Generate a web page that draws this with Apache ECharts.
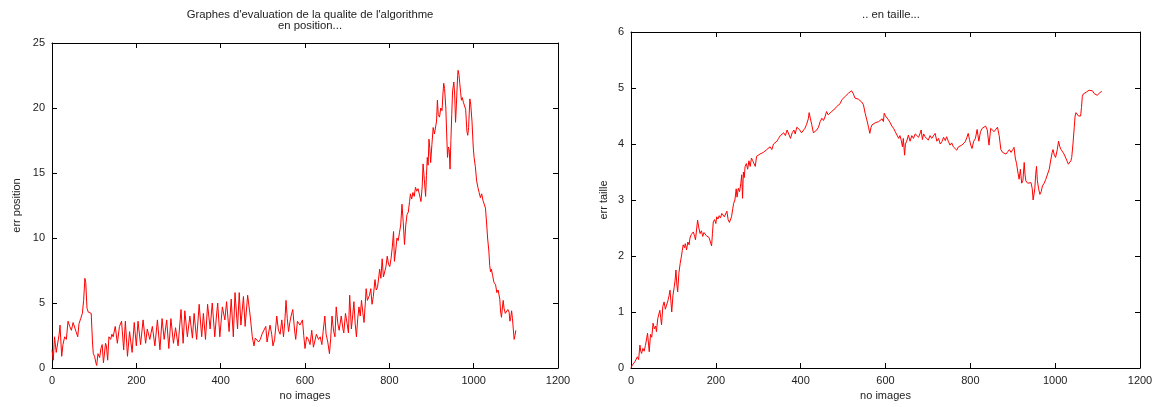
<!DOCTYPE html>
<html><head><meta charset="utf-8">
<script src="https://cdn.jsdelivr.net/npm/echarts@6/dist/echarts.min.js"></script>
<style>html,body{margin:0;padding:0;background:#fff}#c{width:1157px;height:407px}</style>
</head><body><div id="c"></div>
<script>
const xTicksLabels = [0,200,400,600,800,1000,1200];
const posX = [0,3,6,10,14,17,19,23,26,30,34,38,42,46,50,53,57,61,64,68,72,75,78,80,83,86,90,93,96,98,101,104,106,109,113,116,119,122,124,127,129,132,135,139,142,145,150,155,160,165,170,174,179,184,190,195,200,204,210,216,222,226,232,238,244,250,256,261,266,272,277,282,288,293,299,306,311,315,321,327,333,337,343,349,355,359,364,369,375,380,386,390,393,398,404,410,414,420,425,430,434,440,444,448,454,458,464,470,475,479,482,486,490,494,498,502,507,510,513,517,521,524,528,533,537,541,545,549,552,555,558,561,564,567,571,575,578,582,585,588,591,594,597,600,604,608,612,616,620,623,627,632,636,640,643,647,650,654,658,661,664,668,671,674,678,681,686,690,692,696,700,703,706,710,713,716,719,722,725,728,731,734,737,740,743,745,748,750,753,756,759,762,766,769,772,775,777,780,783,786,789,792,795,798,801,804,807,810,812,815,818,821,824,827,830,833,836,839,842,845,848,850,853,856,859,862,865,868,871,875,878,880,883,886,888,890,892,894,896,898,901,904,907,910,912,914,916,919,922,925,927,929,931,934,936,938,940,942,944,946,948,950,953,955,957,958,960,962,963,965,967,969,971,973,976,979,981,984,986,988,991,993,996,999,1001,1004,1007,1010,1013,1016,1019,1022,1025,1028,1031,1033,1036,1038,1040,1042,1045,1048,1050,1052,1055,1058,1060,1062,1064,1066,1068,1070,1072,1075,1078,1081,1084,1086,1088,1090,1092,1094,1096,1098,1100];
const posY = [1.4,0.6,2.4,1.2,1.1,2.6,3.3,0.9,1.8,2.4,2.2,3.6,3.2,2.9,3.5,3.6,2.8,2.4,3.4,3.8,4.2,5.2,6.9,6.6,4.6,4.3,4.4,4.2,2.0,1.1,0.9,0.4,0.2,1.1,0.8,1.5,1.8,0.4,0.5,1.9,1.7,0.6,2.4,2.2,2.6,2.4,3.2,1.9,3.2,3.6,1.4,3.6,0.9,2.8,1.2,3.5,1.7,3.6,1.8,3.7,1.9,3.0,2.2,3.2,1.7,3.7,1.4,3.8,2.2,3.7,1.5,3.8,1.9,3.1,1.7,4.5,1.9,4.4,2.4,4.0,2.3,4.2,2.2,4.9,2.4,4.2,2.2,4.9,3.0,5.0,2.4,4.0,5.0,2.4,4.7,3.7,5.1,2.8,5.3,2.4,5.8,3.0,5.8,3.3,5.5,3.2,5.6,4.0,2.4,1.7,2.3,2.4,2.0,2.2,2.6,2.7,3.2,2.0,2.1,3.3,2.6,1.7,2.2,4.0,2.9,2.6,3.7,2.4,3.5,5.2,3.8,2.8,3.5,4.0,4.5,3.0,2.2,3.6,3.7,3.3,3.2,3.7,2.5,1.5,2.4,2.2,1.8,2.9,1.6,1.5,2.6,2.2,2.4,1.8,2.8,4.0,2.6,2.0,1.1,2.3,4.0,2.8,2.4,4.7,3.4,2.9,4.0,3.0,2.7,4.2,3.4,2.7,5.6,3.0,4.0,5.1,3.4,2.4,3.8,4.7,4.0,5.2,4.3,3.5,5.0,6.1,5.2,5.1,5.6,6.1,4.9,5.5,6.8,6.0,6.2,7.0,7.6,6.9,8.4,7.0,6.9,7.8,8.6,8.0,7.8,8.4,9.3,10.5,8.2,9.0,10.0,9.8,10.4,11.0,12.6,11.2,9.5,11.0,11.8,12.0,12.8,13.4,13.0,13.5,13.2,13.9,13.6,13.8,13.4,12.8,14.0,15.7,14.5,13.2,14.8,16.2,15.6,17.6,16.9,15.8,17.2,18.5,18.0,18.0,19.0,20.6,19.5,19.3,20.0,19.8,21.0,21.9,21.5,20.0,18.0,16.2,17.0,16.8,15.3,17.5,19.5,21.3,22.0,21.0,18.9,19.5,21.0,22.5,22.9,22.6,21.9,21.2,20.6,20.8,20.4,20.5,19.9,18.2,17.9,18.5,20.7,20.3,19.0,17.0,16.2,15.5,14.4,13.9,13.5,13.1,13.4,12.9,12.9,12.3,11.0,10.0,9.0,7.9,7.4,7.6,7.1,6.6,6.7,6.4,5.8,6.0,5.9,5.3,4.3,3.9,4.6,5.2,4.6,4.2,4.1,4.5,4.3,3.6,3.9,4.4,3.8,3.0,2.2,2.5,2.9];
const tailleX = [0,3,6,9,12,15,18,21,23,25,28,31,34,37,39,41,43,46,49,52,55,58,60,63,66,68,70,72,75,78,81,84,87,90,92,94,96,99,102,104,106,108,110,113,116,119,121,123,126,128,131,134,137,139,142,145,147,150,152,155,157,160,163,166,169,172,175,178,181,184,187,190,192,194,197,200,202,205,208,211,214,217,220,223,226,229,232,234,237,240,242,245,248,250,253,256,259,261,263,265,267,269,272,275,278,281,284,287,290,293,296,300,304,308,312,316,320,324,328,332,336,340,344,348,352,356,360,364,368,372,376,380,384,387,391,394,398,402,406,410,414,418,420,423,426,430,434,438,442,446,450,454,458,461,465,469,473,477,481,485,489,493,497,501,505,509,513,517,520,522,524,528,532,536,540,544,548,552,556,560,563,566,568,572,576,580,584,588,592,595,597,600,603,607,611,615,619,623,627,631,634,637,640,642,645,647,650,654,658,662,666,670,674,678,682,684,687,690,693,697,701,705,709,713,717,721,725,729,733,737,741,744,748,752,756,760,764,768,772,776,780,784,788,792,795,798,801,804,808,812,816,820,824,828,832,836,840,844,848,852,856,860,864,868,872,876,880,884,888,892,896,900,903,906,909,912,915,918,921,924,927,929,931,935,939,943,946,948,950,952,954,956,958,961,964,967,970,974,978,982,986,990,993,995,998,1001,1005,1008,1011,1014,1017,1021,1025,1029,1031,1034,1037,1039,1042,1045,1047,1049,1052,1055,1058,1060,1062,1064,1066,1070,1074,1077,1080,1084,1088,1092,1096,1099,1102,1106,1110];
const tailleY = [0.0,0.05,0.02,0.11,0.08,0.2,0.15,0.41,0.3,0.26,0.35,0.3,0.4,0.38,0.62,0.65,0.29,0.6,0.55,0.8,0.7,0.75,0.65,0.88,0.9,1.03,0.9,0.77,1.1,1.18,1.05,1.06,1.2,1.3,1.39,1.2,1.0,1.3,1.45,1.57,1.75,1.5,1.36,1.7,1.87,2.0,2.1,2.2,2.15,2.22,2.11,2.25,2.2,2.32,2.38,2.35,2.43,2.35,2.29,2.5,2.64,2.5,2.4,2.45,2.35,2.42,2.4,2.36,2.38,2.33,2.3,2.18,2.4,2.61,2.65,2.58,2.7,2.66,2.72,2.68,2.76,2.74,2.7,2.75,2.8,2.65,2.6,2.58,2.7,2.85,2.94,3.0,3.2,3.05,3.21,3.15,3.3,3.45,3.03,3.5,3.4,3.6,3.65,3.55,3.7,3.6,3.75,3.7,3.72,3.6,3.78,3.75,3.82,3.8,3.85,3.82,3.9,3.88,3.95,3.9,4.0,3.97,4.05,4.1,4.15,4.18,4.2,4.15,4.25,4.22,4.1,4.2,4.25,4.18,4.3,4.33,4.25,4.2,4.18,4.28,4.35,4.45,4.56,4.45,4.35,4.2,4.22,4.25,4.3,4.4,4.46,4.42,4.5,4.58,4.52,4.55,4.58,4.6,4.63,4.67,4.68,4.72,4.79,4.78,4.85,4.88,4.91,4.93,4.95,4.98,4.9,4.82,4.84,4.8,4.82,4.75,4.7,4.55,4.43,4.3,4.19,4.3,4.34,4.35,4.38,4.37,4.4,4.42,4.45,4.4,4.55,4.5,4.48,4.43,4.38,4.32,4.28,4.22,4.19,4.1,4.15,4.07,3.95,4.1,3.8,4.0,4.05,4.16,4.05,4.15,4.1,4.18,4.16,4.12,4.2,4.25,4.08,4.18,4.13,4.1,4.07,4.15,4.1,4.12,4.19,4.05,4.1,4.0,4.04,4.12,4.06,4.13,4.05,3.98,4.02,3.95,3.92,3.89,3.95,3.96,3.98,4.0,4.04,4.12,4.19,4.08,3.98,3.92,4.05,4.1,4.26,4.05,4.22,4.28,4.3,4.32,4.25,3.98,4.28,4.3,4.22,4.25,4.3,4.15,3.9,3.85,3.88,3.82,3.86,3.9,3.85,3.9,3.94,3.75,3.65,3.5,3.37,3.55,3.3,3.35,3.67,3.45,3.34,3.3,3.28,3.31,3.2,3.0,2.98,3.2,3.45,3.6,3.35,3.2,3.1,3.15,3.25,3.3,3.37,3.4,3.55,3.73,3.85,3.9,3.8,3.76,3.9,4.05,3.95,3.9,3.87,3.82,3.75,3.68,3.64,3.66,3.7,3.76,4.0,4.3,4.5,4.56,4.55,4.5,4.52,4.5,4.65,4.85,4.89,4.9,4.93,4.92,4.96,4.93,4.95,4.9,4.88,4.87,4.9,4.92,4.94];

const pairs = (xs, ys) => xs.map((x, i) => [x, ys[i]]);
const font = 'Liberation Sans';
const txt = '#222';
const chart = echarts.init(document.getElementById('c'), null, {renderer: 'canvas'});

function xAx(grid, pos) {
  const bottom = pos === 'bottom';
  return {
    type: 'value', gridIndex: grid, position: pos, min: 0, max: 1200, interval: 200,
    name: bottom ? 'no images' : '', nameLocation: 'middle', nameGap: 20,
    nameTextStyle: {fontFamily: font, fontSize: 11, color: txt},
    axisLine: {show: true, onZero: false, lineStyle: {color: '#000', width: 1}},
    axisTick: {show: true, inside: true, length: 5, lineStyle: {color: '#000'}},
    axisLabel: {show: bottom, fontFamily: font, fontSize: 11, color: txt, margin: 7,
                formatter: v => String(v)},
    splitLine: {show: false}
  };
}
function yAx(grid, pos, max, interval, name, gap) {
  const left = pos === 'left';
  return {
    type: 'value', gridIndex: grid, position: pos, min: 0, max: max, interval: interval,
    name: left ? name : '', nameLocation: 'middle', nameGap: gap, nameRotate: 90,
    nameTextStyle: {fontFamily: font, fontSize: 11, color: txt},
    axisLine: {show: true, onZero: false, lineStyle: {color: '#000', width: 1}},
    axisTick: {show: true, inside: true, length: 5, lineStyle: {color: '#000'}},
    axisLabel: {show: left, fontFamily: font, fontSize: 11, color: txt, margin: 7,
                formatter: v => String(v)},
    splitLine: {show: false}
  };
}

chart.setOption({
  animation: false,
  backgroundColor: '#fff',
  title: [
    {text: "Graphes d'evaluation de la qualite de l'algorithme\nen position...", left: 305, top: 4, textAlign: 'center',
     textStyle: {fontFamily: font, fontSize: 11.3, fontWeight: 'normal', color: txt, lineHeight: 11.5}},
    {text: '.. en taille...', left: 886, top: 4, textAlign: 'center',
     textStyle: {fontFamily: font, fontSize: 11.3, fontWeight: 'normal', color: txt}}
  ],
  grid: [
    {left: 52, top: 43, width: 506, height: 325},
    {left: 631, top: 32, width: 509, height: 336}
  ],
  xAxis: [xAx(0, 'bottom'), xAx(0, 'top'), xAx(1, 'bottom'), xAx(1, 'top')],
  yAxis: [yAx(0, 'left', 25, 5, 'err position', 30), yAx(0, 'right', 25, 5, '', 0),
          yAx(1, 'left', 6, 1, 'err taille', 22), yAx(1, 'right', 6, 1, '', 0)],
  series: [
    {type: 'line', xAxisIndex: 0, yAxisIndex: 0, data: pairs(posX, posY), showSymbol: false,
     lineStyle: {color: '#ff0000', width: 1}, itemStyle: {color: '#ff0000'}},
    {type: 'line', xAxisIndex: 2, yAxisIndex: 2, data: pairs(tailleX, tailleY), showSymbol: false,
     lineStyle: {color: '#ff0000', width: 1}, itemStyle: {color: '#ff0000'}}
  ]
});
</script></body></html>
